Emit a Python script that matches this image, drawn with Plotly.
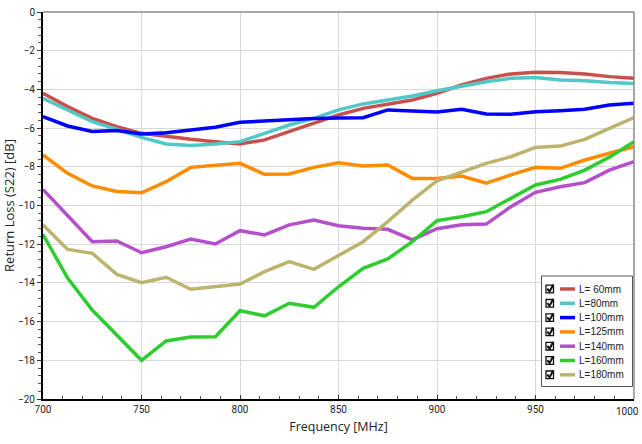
import plotly.graph_objects as go

freq = [700 + 12.5 * i for i in range(25)]
x_ticks = [700, 750, 800, 850, 900, 950, 1000]
x_ticklabels = ["700", "750", "800", "850", "900", "950", "1000"]

L60 = [-4.2, -4.89, -5.5, -5.93, -6.27, -6.44, -6.58, -6.7, -6.82, -6.61, -6.19, -5.75, -5.32,
       -4.98, -4.75, -4.55, -4.2, -3.77, -3.43, -3.2, -3.12, -3.13, -3.2, -3.34, -3.43]
L80 = [-4.46, -5.06, -5.67, -6.06, -6.48, -6.82, -6.9, -6.82, -6.7, -6.27, -5.84, -5.5, -5.06,
       -4.75, -4.55, -4.34, -4.07, -3.82, -3.6, -3.43, -3.38, -3.51, -3.55, -3.64, -3.69]
L100 = [-5.41, -5.89, -6.18, -6.13, -6.3, -6.24, -6.1, -5.96, -5.7, -5.63, -5.55, -5.51, -5.48,
        -5.46, -5.06, -5.12, -5.17, -5.03, -5.27, -5.29, -5.15, -5.1, -5.03, -4.81, -4.72]
L125 = [-7.39, -8.34, -8.99, -9.28, -9.34, -8.77, -8.03, -7.91, -7.82, -8.39, -8.37, -8.03, -7.79,
        -7.96, -7.91, -8.6, -8.6, -8.48, -8.85, -8.42, -8.03, -8.08, -7.65, -7.3, -6.96]
L140 = [-9.17, -10.5, -11.87, -11.83, -12.44, -12.13, -11.73, -11.99, -11.3, -11.52, -11.0, -10.75, -11.05,
        -11.18, -11.23, -11.78, -11.2, -11.0, -10.96, -10.06, -9.32, -9.03, -8.82, -8.17, -7.73]
L160 = [-11.5, -13.75, -15.4, -16.7, -18.0, -17.0, -16.8, -16.78, -15.44, -15.7, -15.05, -15.26, -14.2,
        -13.25, -12.76, -11.87, -10.78, -10.58, -10.32, -9.63, -8.94, -8.65, -8.17, -7.5, -6.7]
L180 = [-11.0, -12.27, -12.47, -13.56, -13.99, -13.71, -14.33, -14.2, -14.06, -13.42, -12.9, -13.3, -12.56,
        -11.87, -10.83, -9.72, -8.72, -8.25, -7.82, -7.48, -7.0, -6.93, -6.58, -6.01, -5.46]

names = ["L= 60mm", "L=80mm", "L=100mm", "L=125mm", "L=140mm", "L=160mm", "L=180mm"]
series = [L60, L80, L100, L125, L140, L160, L180]
colors = ["#c8504b", "#50c8c8", "#0000ff", "#ff8c00", "#b450cc", "#2ecc2e", "#bcb46e"]

W, H = 642, 444
ML, MR, MT, MB = 43, 8, 12, 45
PW, PH = W - ML - MR, H - MT - MB


def px(X):
    return (X - ML) / PW


def py(Y):
    return (H - MB - Y) / PH


TICKFONT = dict(size=10, family="Liberation Sans Narrow, Roboto, sans-serif", color="#222")

fig = go.Figure()
for n, s, c in zip(names, series, colors):
    fig.add_trace(go.Scatter(x=freq, y=s, name=n, mode="lines",
                             line=dict(color=c, width=3.5), showlegend=False))

shapes = []
annotations = []
# grey top and right frame
shapes.append(dict(type="line", xref="paper", yref="paper", x0=0, x1=1, y0=1, y1=1,
                   line=dict(color="#8a8a8a", width=1.5), layer="above"))
shapes.append(dict(type="line", xref="paper", yref="paper", x0=1, x1=1, y0=0, y1=1,
                   line=dict(color="#8a8a8a", width=1.5), layer="above"))

# custom legend
shapes.append(dict(type="rect", xref="paper", yref="paper",
                   x0=px(541.5), x1=px(632.5), y0=py(386.5), y1=py(276),
                   fillcolor="white", line=dict(color="#555", width=1), layer="above"))
for i, (n, c) in enumerate(zip(names, colors)):
    yc = 289 + 14.3 * i
    shapes.append(dict(type="rect", xref="paper", yref="paper",
                       x0=px(546), x1=px(553.5), y0=py(yc + 3.8), y1=py(yc - 3.8),
                       fillcolor="white", line=dict(color="#111", width=1.3), layer="above"))
    path = "M {} {} L {} {} L {} {}".format(px(547.3), py(yc - 0.3), px(549.5), py(yc + 2.6),
                                            px(553.2), py(yc - 4.2))
    shapes.append(dict(type="path", xref="paper", yref="paper", path=path,
                       line=dict(color="#111", width=2), layer="above"))
    shapes.append(dict(type="line", xref="paper", yref="paper",
                       x0=px(560), x1=px(575), y0=py(yc), y1=py(yc),
                       line=dict(color=c, width=3.5), layer="above"))
    annotations.append(dict(xref="paper", yref="paper", x=px(577), y=py(yc),
                            xanchor="left", yanchor="middle", text=n, showarrow=False,
                            font=dict(size=10, family="Liberation Sans, Arial, sans-serif", color="#222")))

# last x tick label, kept inside the page (right-aligned at the edge)
annotations.append(dict(xref="paper", yref="paper", x=px(641), y=py(404),
                        xanchor="right", yanchor="top", text=x_ticklabels[-1], showarrow=False,
                        font=TICKFONT))

fig.update_layout(
    width=W, height=H,
    margin=dict(l=ML, r=MR, t=MT, b=MB, autoexpand=False),
    paper_bgcolor="white", plot_bgcolor="white",
    font=dict(family="Open Sans, Noto Sans, sans-serif", color="#222"),
    showlegend=False,
    shapes=shapes, annotations=annotations,
)
fig.update_xaxes(range=[700, 1000], tickvals=x_ticks,
                 ticktext=x_ticklabels[:-1] + [""], automargin=False,
                 showgrid=True, gridcolor="#d9d9d9", gridwidth=1,
                 showline=True, linecolor="black", linewidth=2,
                 ticks="inside", ticklen=4, tickcolor="#333",
                 minor=dict(dtick=10, tick0=700, ticks="inside", ticklen=3, tickcolor="#555"),
                 tickfont=TICKFONT,
                 title=dict(text="Frequency [MHz]", font=dict(size=12.5), standoff=8),
                 zeroline=False)
fig.update_yaxes(range=[-20, 0], dtick=2, tick0=0, automargin=False,
                 showgrid=True, gridcolor="#d9d9d9", gridwidth=1,
                 showline=True, linecolor="black", linewidth=2,
                 ticks="outside", ticklen=4, tickcolor="#333",
                 minor=dict(dtick=0.4, ticks="outside", ticklen=3, tickcolor="#555"),
                 tickfont=TICKFONT,
                 ticklabeloverflow="allow",
                 title=dict(text="Return Loss (S22) [dB]", font=dict(size=13), standoff=4),
                 zeroline=False)

fig.write_html("out.html", config={"displayModeBar": False},
               post_script="document.body.style.margin='0';document.body.style.overflow='hidden';")
